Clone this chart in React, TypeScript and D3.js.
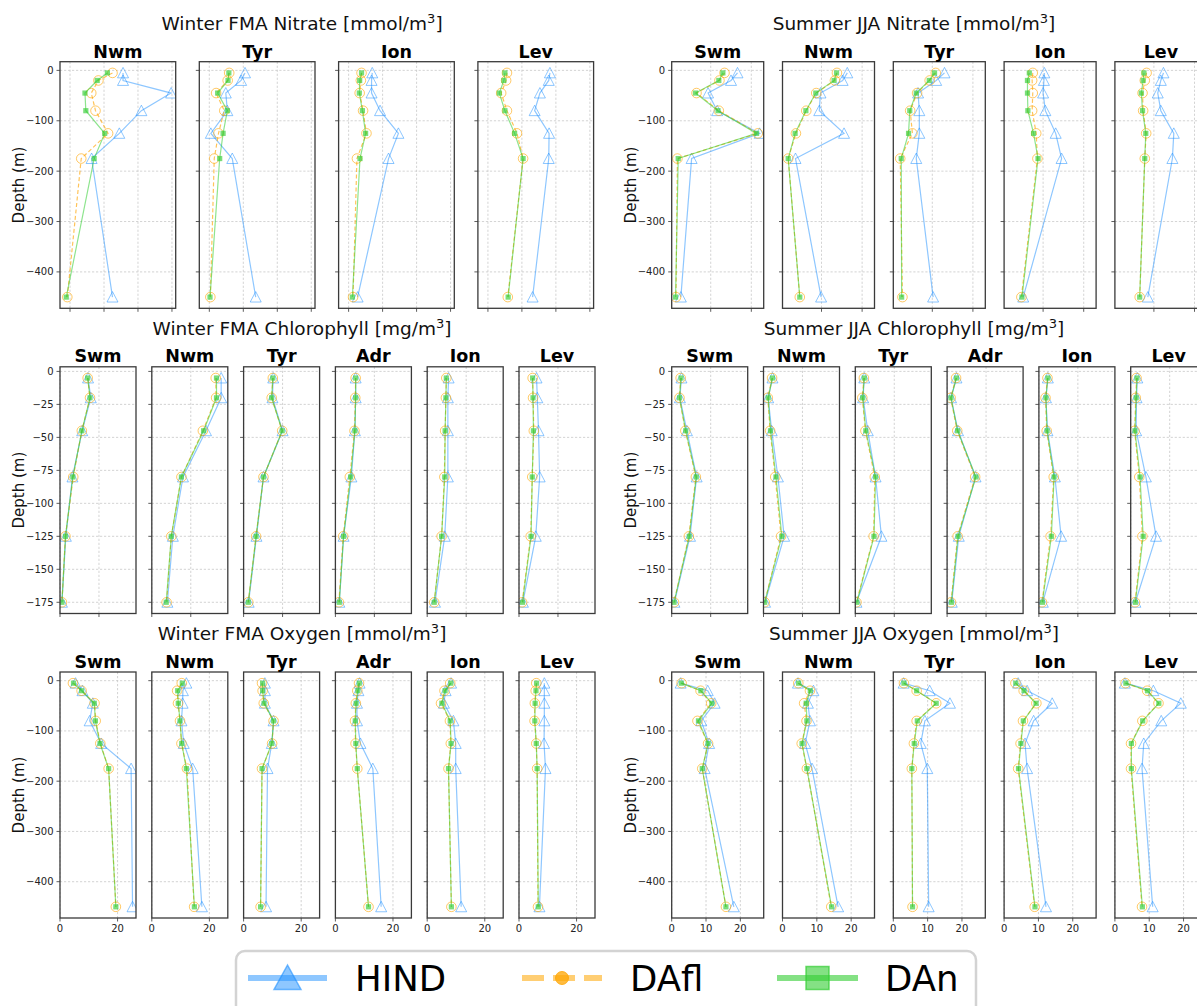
import React from "react";
import * as d3 from "d3";

// ---------- data ----------
const DEPTHS_DEEP = [-5, -20, -45, -80, -125, -175, -450];
const DEPTHS_CHL = [-5, -20, -45, -80, -125, -175];
const Y_TICKS_DEEP = [0, -100, -200, -300, -400];
const Y_TICKS_CHL = [0, -25, -50, -75, -100, -125, -150, -175];

// Winter FMA Nitrate
const W_NIT_REGIONS = ["Nwm", "Tyr", "Ion", "Lev"];
const W_NIT_HIND = [
  [3.12, 3.12, 5.95, 4.2, 2.9, 1.27, 2.5],
  [2.1, 1.87, 0.97, 1.06, 0.09, 1.35, 2.73],
  [1.39, 1.35, 1.35, 1.85, 2.93, 2.35, 0.53],
  [3.65, 3.58, 3.06, 2.75, 3.6, 3.58, 2.63],
];
const W_NIT_DAFL = [
  [2.5, 1.67, 1.25, 1.5, 2.24, 0.66, -0.16],
  [1.17, 1.08, 0.4, 0.88, 0.54, 0.29, 0.06],
  [0.76, 0.72, 0.65, 0.85, 1.05, 0.49, 0.26],
  [1.12, 1.07, 0.78, 1.12, 1.71, 2.07, 1.17],
];
const W_NIT_DAN = [
  [2.2, 1.6, 0.88, 0.93, 2.04, 1.42, -0.22],
  [1.15, 1.1, 0.49, 1.06, 0.81, 0.61, 0.04],
  [0.76, 0.65, 0.63, 0.81, 1.0, 0.67, 0.22],
  [1.0, 0.94, 0.67, 1.0, 1.57, 2.07, 1.19],
];

// Summer JJA Nitrate
const S_NIT_REGIONS = ["Swm", "Nwm", "Tyr", "Ion", "Lev"];
const S_NIT_HIND = [
  [3.32, 3.0, 1.87, 2.32, 4.41, 1.06, 0.53],
  [3.27, 3.04, 1.95, 1.89, 3.11, 0.72, 1.98],
  [2.6, 2.19, 1.3, 1.36, 1.36, 1.21, 2.04],
  [2.06, 2.04, 2.0, 2.11, 2.62, 2.91, 1.02],
  [2.47, 2.34, 2.19, 2.34, 2.98, 2.91, 1.7],
];
const S_NIT_DAFL = [
  [2.68, 2.43, 1.3, 2.4, 4.32, 0.36, 0.29],
  [2.76, 2.66, 1.74, 1.25, 0.74, 0.36, 0.93],
  [2.17, 1.87, 1.25, 0.91, 1.02, 0.42, 0.53],
  [1.49, 1.46, 1.49, 1.46, 1.66, 1.72, 0.93],
  [1.64, 1.55, 1.44, 1.47, 1.62, 1.55, 1.3],
];
const S_NIT_DAN = [
  [2.6, 2.4, 1.25, 2.36, 4.26, 0.4, 0.27],
  [2.74, 2.62, 1.72, 1.23, 0.7, 0.36, 0.93],
  [2.11, 1.85, 1.21, 0.89, 0.83, 0.47, 0.49],
  [1.32, 1.23, 1.23, 1.25, 1.53, 1.75, 0.96],
  [1.51, 1.47, 1.38, 1.44, 1.6, 1.55, 1.3],
];

// Winter FMA Chlorophyll
const W_CHL_REGIONS = ["Swm", "Nwm", "Tyr", "Adr", "Ion", "Lev"];
const W_CHL_HIND = [
  [0.072, 0.079, 0.057, 0.032, 0.015, 0.005],
  [0.178, 0.178, 0.139, 0.08, 0.054, 0.04],
  [0.076, 0.074, 0.1, 0.051, 0.033, 0.013],
  [0.052, 0.052, 0.05, 0.041, 0.021, 0.01],
  [0.055, 0.053, 0.053, 0.053, 0.045, 0.02],
  [0.045, 0.047, 0.05, 0.053, 0.043, 0.01],
];
const W_CHL_DAFL = [
  [0.071, 0.077, 0.056, 0.034, 0.014, 0.005],
  [0.164, 0.165, 0.131, 0.076, 0.05, 0.038],
  [0.075, 0.072, 0.099, 0.051, 0.032, 0.012],
  [0.052, 0.051, 0.049, 0.037, 0.02, 0.009],
  [0.049, 0.048, 0.046, 0.044, 0.037, 0.018],
  [0.035, 0.036, 0.038, 0.034, 0.03, 0.008],
];
const W_CHL_DAN = [
  [0.071, 0.077, 0.056, 0.033, 0.014, 0.005],
  [0.166, 0.166, 0.133, 0.076, 0.05, 0.037],
  [0.075, 0.072, 0.099, 0.051, 0.032, 0.012],
  [0.052, 0.052, 0.05, 0.039, 0.021, 0.01],
  [0.049, 0.048, 0.046, 0.045, 0.037, 0.018],
  [0.035, 0.036, 0.037, 0.034, 0.031, 0.009],
];

// Summer JJA Chlorophyll
const S_CHL_REGIONS = ["Swm", "Nwm", "Tyr", "Adr", "Ion", "Lev"];
const S_CHL_HIND = [
  [0.025, 0.021, 0.039, 0.064, 0.047, 0.007],
  [0.023, 0.012, 0.021, 0.037, 0.053, 0.004],
  [0.023, 0.02, 0.032, 0.052, 0.067, 0.003],
  [0.024, 0.01, 0.028, 0.073, 0.03, 0.012],
  [0.023, 0.018, 0.022, 0.041, 0.057, 0.01],
  [0.017, 0.015, 0.014, 0.039, 0.065, 0.012],
];
const S_CHL_DAFL = [
  [0.023, 0.02, 0.035, 0.062, 0.044, 0.006],
  [0.022, 0.011, 0.017, 0.03, 0.045, 0.003],
  [0.022, 0.018, 0.026, 0.05, 0.047, 0.003],
  [0.023, 0.009, 0.026, 0.072, 0.027, 0.01],
  [0.022, 0.017, 0.02, 0.038, 0.03, 0.008],
  [0.015, 0.013, 0.01, 0.022, 0.03, 0.011],
];
const S_CHL_DAN = [
  [0.024, 0.02, 0.036, 0.063, 0.045, 0.006],
  [0.023, 0.012, 0.018, 0.032, 0.047, 0.003],
  [0.023, 0.019, 0.027, 0.052, 0.048, 0.004],
  [0.024, 0.01, 0.027, 0.074, 0.028, 0.011],
  [0.023, 0.018, 0.021, 0.039, 0.032, 0.009],
  [0.016, 0.014, 0.011, 0.024, 0.032, 0.012],
];

// Winter FMA Oxygen
const W_OXY_REGIONS = ["Swm", "Nwm", "Tyr", "Adr", "Ion", "Lev"];
const W_OXY_HIND = [
  [5.4, 7.8, 11.4, 10.3, 14.3, 24.7, 25.2],
  [12.0, 10.8, 10.7, 10.3, 11.1, 14.2, 17.4],
  [7.4, 7.4, 7.4, 10.4, 9.8, 8.3, 7.8],
  [8.4, 8.0, 7.5, 7.5, 8.7, 13.0, 15.9],
  [8.3, 6.4, 5.8, 9.1, 9.9, 9.9, 11.8],
  [8.8, 8.8, 8.8, 8.8, 8.7, 9.2, 7.1],
];
const W_OXY_DAFL = [
  [4.5, 7.5, 12.0, 12.4, 14.0, 16.9, 19.4],
  [10.4, 8.8, 9.1, 9.8, 10.3, 12.2, 14.7],
  [6.4, 6.6, 7.0, 10.4, 9.9, 6.4, 5.9],
  [8.2, 7.6, 7.1, 6.8, 7.0, 7.6, 11.5],
  [8.0, 6.0, 4.8, 7.9, 8.2, 7.4, 8.4],
  [6.0, 5.8, 5.5, 5.4, 6.0, 6.3, 6.6],
];
const W_OXY_DAN = [
  [4.7, 7.5, 11.9, 12.3, 13.9, 16.9, 19.4],
  [10.6, 9.0, 9.2, 9.8, 10.4, 12.0, 14.8],
  [6.6, 6.6, 7.1, 10.4, 9.8, 6.4, 5.9],
  [8.3, 7.8, 7.2, 6.9, 7.1, 7.6, 11.5],
  [8.2, 6.2, 5.1, 8.0, 8.3, 7.4, 8.4],
  [6.1, 5.9, 5.6, 5.5, 6.0, 6.3, 6.7],
];

// Summer JJA Oxygen
const S_OXY_REGIONS = ["Swm", "Nwm", "Tyr", "Ion", "Lev"];
const S_OXY_HIND = [
  [2.6, 10.5, 12.5, 8.6, 10.9, 9.6, 18.1],
  [4.5, 9.0, 7.4, 8.0, 6.6, 8.6, 16.2],
  [3.0, 10.6, 16.5, 9.2, 8.0, 9.9, 10.3],
  [4.1, 6.7, 14.0, 8.6, 6.1, 6.7, 12.2],
  [2.9, 11.2, 19.2, 13.5, 8.4, 7.9, 11.0],
];
const S_OXY_DAFL = [
  [2.9, 8.4, 11.5, 7.5, 10.6, 8.9, 15.8],
  [4.6, 8.0, 6.3, 7.0, 5.6, 7.1, 14.2],
  [3.1, 6.8, 12.5, 6.8, 6.0, 5.4, 5.6],
  [3.3, 5.7, 9.4, 5.5, 4.8, 4.1, 8.9],
  [3.1, 9.4, 12.7, 8.0, 4.7, 4.7, 7.9],
];
const S_OXY_DAN = [
  [2.8, 8.5, 11.7, 7.8, 10.6, 8.9, 15.8],
  [4.7, 8.1, 6.9, 7.1, 5.7, 7.1, 14.3],
  [3.1, 6.8, 12.5, 7.0, 6.1, 5.4, 5.6],
  [3.4, 5.8, 9.3, 5.6, 4.9, 4.2, 9.0],
  [3.2, 9.5, 12.8, 8.1, 4.8, 4.8, 8.0],
];

const LEGEND_LABELS = ["HIND", "DAfl", "DAn"];

// ---------- layout / style ----------
const W = 1197;
const H = 1006;
const FONT = "DejaVu Sans, Verdana, sans-serif";
const C_HIND = "#1e90ff";
const C_DAFL = "#ffa500";
const C_DAN = "#32cd32";

const ROWS = [
  { top: 61.7, bottom: 308.3, titleY: 30, subY: 57.5, yDomain: [-472.25, 17.25], yTicks: Y_TICKS_DEEP, depths: DEPTHS_DEEP },
  { top: 366.8, bottom: 613.5, titleY: 335, subY: 362, yDomain: [-183.5, 3.5], yTicks: Y_TICKS_CHL, depths: DEPTHS_CHL },
  { top: 672, bottom: 918, titleY: 640, subY: 667.5, yDomain: [-472.25, 17.25], yTicks: Y_TICKS_DEEP, depths: DEPTHS_DEEP },
];

const GROUPS = [
  { title: "Winter FMA Nitrate [mmol/m", row: 0, cx: 302, left: 60, step: 139.3, width: 115.7, xDomain: [-0.59, 6.22], xTicks: [0, 2, 4, 6], xLabels: false, regions: W_NIT_REGIONS, hind: W_NIT_HIND, dafl: W_NIT_DAFL, dan: W_NIT_DAN },
  { title: "Summer JJA Nitrate [mmol/m", row: 0, cx: 914, left: 671.7, step: 110.8, width: 92, xDomain: [0.079, 4.61], xTicks: [2, 4], xLabels: false, regions: S_NIT_REGIONS, hind: S_NIT_HIND, dafl: S_NIT_DAFL, dan: S_NIT_DAN },
  { title: "Winter FMA Chlorophyll [mg/m", row: 1, cx: 302, left: 60, step: 91.8, width: 76, xDomain: [0, 0.195], xTicks: [0, 0.1], xLabels: false, regions: W_CHL_REGIONS, hind: W_CHL_HIND, dafl: W_CHL_DAFL, dan: W_CHL_DAN },
  { title: "Summer JJA Chlorophyll [mg/m", row: 1, cx: 914, left: 671.7, step: 91.8, width: 76, xDomain: [0, 0.195], xTicks: [0, 0.1], xLabels: false, regions: S_CHL_REGIONS, hind: S_CHL_HIND, dafl: S_CHL_DAFL, dan: S_CHL_DAN },
  { title: "Winter FMA Oxygen [mmol/m", row: 2, cx: 302, left: 60, step: 91.8, width: 76, xDomain: [0, 26.4], xTicks: [0, 20], xLabels: true, regions: W_OXY_REGIONS, hind: W_OXY_HIND, dafl: W_OXY_DAFL, dan: W_OXY_DAN },
  { title: "Summer JJA Oxygen [mmol/m", row: 2, cx: 914, left: 671.7, step: 110.8, width: 92, xDomain: [0, 26.8], xTicks: [0, 10, 20], xLabels: true, regions: S_OXY_REGIONS, hind: S_OXY_HIND, dafl: S_OXY_DAFL, dan: S_OXY_DAN },
];

const fmtY = d3.format("d");
const fmtX = d3.format("d");

function triPath(cx: number, cy: number, s: number) {
  return `M${cx},${cy - s}L${cx - s},${cy + s * 0.9}L${cx + s},${cy + s * 0.9}Z`;
}

function Panel({ g, row, idx, gi }: any) {
  const left = g.left + idx * g.step;
  const right = left + g.width;
  const x = d3.scaleLinear().domain(g.xDomain).range([left, right]);
  const y = d3.scaleLinear().domain(row.yDomain).range([row.bottom, row.top]);
  const line = d3
    .line<[number, number]>()
    .x((d) => x(d[0]))
    .y((d) => y(d[1]));
  const pts = (vals: number[]) => vals.map((v, i) => [v, row.depths[i]] as [number, number]);
  const hind = pts(g.hind[idx]);
  const dafl = pts(g.dafl[idx]);
  const dan = pts(g.dan[idx]);
  const clipId = `clip-${gi}-${idx}`;
  const showY = idx === 0;
  return (
    <g>
      <defs>
        <clipPath id={clipId}>
          <rect x={left} y={row.top} width={g.width} height={row.bottom - row.top} />
        </clipPath>
      </defs>
      {/* grid */}
      <g stroke="#b8b8b8" strokeWidth={0.8} strokeDasharray="2.2,1.8" opacity={0.75}>
        {row.yTicks.map((t: number) => (
          <line key={"gy" + t} x1={left} x2={right} y1={y(t)} y2={y(t)} />
        ))}
        {g.xTicks.map((t: number) => (
          <line key={"gx" + t} x1={x(t)} x2={x(t)} y1={row.top} y2={row.bottom} />
        ))}
      </g>
      {/* data */}
      <g clipPath={`url(#${clipId})`}>
        <path d={line(hind) || ""} fill="none" stroke={C_HIND} strokeOpacity={0.5} strokeWidth={1.2} />
        {hind.map((d, i) => (
          <path key={"h" + i} d={triPath(x(d[0]), y(d[1]), 5.5)} fill="none" stroke={C_HIND} strokeOpacity={0.5} strokeWidth={1} />
        ))}
        <path d={line(dafl) || ""} fill="none" stroke={C_DAFL} strokeOpacity={0.65} strokeWidth={1.2} strokeDasharray="4,2.5" />
        {dafl.map((d, i) => (
          <circle key={"f" + i} cx={x(d[0])} cy={y(d[1])} r={4.8} fill="none" stroke={C_DAFL} strokeOpacity={0.6} strokeWidth={1} />
        ))}
        <path d={line(dan) || ""} fill="none" stroke={C_DAN} strokeOpacity={0.55} strokeWidth={1.2} />
        {dan.map((d, i) => (
          <rect key={"n" + i} x={x(d[0]) - 2.6} y={y(d[1]) - 2.6} width={5.2} height={5.2} fill={C_DAN} fillOpacity={0.65} />
        ))}
      </g>
      {/* ticks */}
      <g stroke="#333" strokeWidth={0.8}>
        {row.yTicks.map((t: number) => (
          <line key={"ty" + t} x1={left - 3.5} x2={left} y1={y(t)} y2={y(t)} />
        ))}
        {g.xTicks.map((t: number) => (
          <line key={"tx" + t} x1={x(t)} x2={x(t)} y1={row.bottom} y2={row.bottom + 3.5} />
        ))}
      </g>
      {showY &&
        row.yTicks.map((t: number) => (
          <text key={"ly" + t} x={left - 6.5} y={y(t)} fontSize={10} textAnchor="end" dominantBaseline="central" fill="#222">
            {fmtY(t)}
          </text>
        ))}
      {g.xLabels &&
        g.xTicks.map((t: number) => (
          <text key={"lx" + t} x={x(t)} y={row.bottom + 14} fontSize={10} textAnchor="middle" fill="#222">
            {fmtX(t)}
          </text>
        ))}
      {/* frame */}
      <rect x={left} y={row.top} width={g.width} height={row.bottom - row.top} fill="none" stroke="#3a3a3a" strokeWidth={1.3} />
      {/* subplot title */}
      <text x={(left + right) / 2} y={row.subY} fontSize={17.5} fontWeight="bold" textAnchor="middle" fill="#000">
        {g.regions[idx]}
      </text>
    </g>
  );
}

function Group({ g, gi }: any) {
  const row = ROWS[g.row];
  const ylabX = g.left - 41;
  const ylabY = (row.top + row.bottom) / 2;
  return (
    <g>
      <text x={g.cx} y={row.titleY} fontSize={18.5} textAnchor="middle" fill="#111">
        {g.title}
        <tspan dy={-7} fontSize={13}>3</tspan>
        <tspan dy={7}>]</tspan>
      </text>
      <text transform={`translate(${ylabX},${ylabY}) rotate(-90)`} fontSize={15} textAnchor="middle" dominantBaseline="central" fill="#111">
        Depth (m)
      </text>
      {g.regions.map((_: string, idx: number) => (
        <Panel key={idx} g={g} row={row} idx={idx} gi={gi} />
      ))}
    </g>
  );
}

function Legend() {
  const cy = 978;
  const entries = [
    { x0: 248, x1: 327, tx: 355 },
    { x0: 522, x1: 602, tx: 630 },
    { x0: 777, x1: 858, tx: 885 },
  ];
  return (
    <g>
      <rect x={236} y={951} width={740} height={72} rx={9} fill="#fff" stroke="#d3d3d3" strokeWidth={2.5} />
      {/* HIND */}
      <line x1={entries[0].x0} x2={entries[0].x1} y1={cy} y2={cy} stroke={C_HIND} strokeOpacity={0.5} strokeWidth={6} />
      <path d={`M287.5,${cy - 13}L274,${cy + 11.5}L301,${cy + 11.5}Z`} fill={C_HIND} fillOpacity={0.5} stroke={C_HIND} strokeOpacity={0.6} strokeWidth={1.5} />
      {/* DAfl */}
      <line x1={entries[1].x0} x2={entries[1].x1} y1={cy} y2={cy} stroke={C_DAFL} strokeOpacity={0.55} strokeWidth={6} strokeDasharray="22,9" />
      <circle cx={562} cy={cy} r={6.5} fill={C_DAFL} fillOpacity={0.75} stroke={C_DAFL} strokeOpacity={0.8} />
      {/* DAn */}
      <line x1={entries[2].x0} x2={entries[2].x1} y1={cy} y2={cy} stroke={C_DAN} strokeOpacity={0.6} strokeWidth={6} />
      <rect x={817.5 - 11.5} y={cy - 11.5} width={23} height={23} fill={C_DAN} fillOpacity={0.6} stroke={C_DAN} strokeOpacity={0.7} strokeWidth={1.5} />
      {LEGEND_LABELS.map((l, i) => (
        <text key={l} x={entries[i].tx} y={cy + 12.5} fontSize={35.5} fill="#000">
          {l}
        </text>
      ))}
    </g>
  );
}

export default function App() {
  return (
    <svg
      width={W}
      height={H}
      viewBox={`0 0 ${W} ${H}`}
      style={{ position: "absolute", left: 0, top: 0, display: "block", background: "#fff" }}
      fontFamily={FONT}
    >
      <rect width={W} height={H} fill="#fff" />
      {GROUPS.map((g, gi) => (
        <Group key={gi} g={g} gi={gi} />
      ))}
      <Legend />
    </svg>
  );
}
